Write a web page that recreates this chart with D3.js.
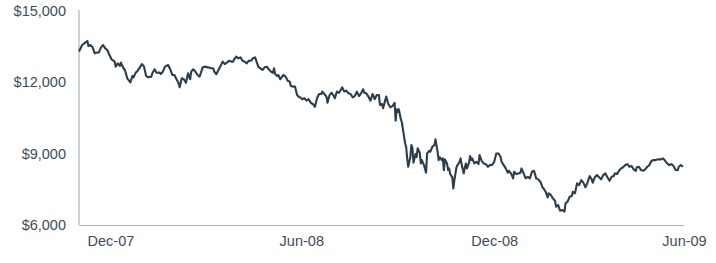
<!DOCTYPE html>
<html lang="en">
<head>
    <meta charset="UTF-8">
    <title>Index level, Dec-07 to Jun-09</title>
    <script src="https://d3js.org/d3.v7.min.js"></script>
    <style>
        body { margin: 0; background: #fff; }
        .axis path { stroke: #a8b2bf; stroke-width: 1.2px; }
        .axis text { font: 14.5px "Liberation Sans", Arial, sans-serif; fill: #3e4d5c; }
        .line { fill: none; stroke: #2c3e4b; stroke-width: 2.1px; stroke-linejoin: round; }
    </style>
</head>
<body>
    <svg width="716" height="263"></svg>

    <script>
        // valores (cierre aproximado)
        const dates = [
            "2007-12-01","2007-12-04","2007-12-07","2007-12-09","2007-12-10","2007-12-12","2007-12-14","2007-12-16","2007-12-18","2007-12-20","2007-12-22","2007-12-24","2007-12-26","2007-12-28","2007-12-30",
            "2008-01-01","2008-01-04","2008-01-05","2008-01-07","2008-01-09","2008-01-10","2008-01-12","2008-01-14","2008-01-16","2008-01-19","2008-01-21","2008-01-22","2008-01-24","2008-01-26","2008-01-28","2008-01-30",
            "2008-02-01","2008-02-03","2008-02-05","2008-02-08","2008-02-09","2008-02-11","2008-02-13","2008-02-16","2008-02-17","2008-02-19","2008-02-21","2008-02-24","2008-02-26","2008-02-28",
            "2008-03-01","2008-03-03","2008-03-05","2008-03-06","2008-03-08","2008-03-10","2008-03-12","2008-03-14","2008-03-16","2008-03-17","2008-03-19","2008-03-21","2008-03-23","2008-03-25","2008-03-28","2008-03-30",
            "2008-04-02","2008-04-05","2008-04-07","2008-04-08","2008-04-10","2008-04-12","2008-04-14","2008-04-16","2008-04-18","2008-04-20","2008-04-22","2008-04-24","2008-04-26","2008-04-27","2008-04-29",
            "2008-05-01","2008-05-03","2008-05-05","2008-05-07","2008-05-09","2008-05-11","2008-05-13","2008-05-15","2008-05-17","2008-05-18","2008-05-20","2008-05-22","2008-05-24","2008-05-26","2008-05-28","2008-05-30",
            "2008-06-01","2008-06-03","2008-06-04","2008-06-05","2008-06-07","2008-06-08","2008-06-10","2008-06-13","2008-06-15","2008-06-17","2008-06-19","2008-06-20","2008-06-22","2008-06-24","2008-06-26","2008-06-28","2008-06-29",
            "2008-07-01","2008-07-03","2008-07-05","2008-07-07","2008-07-09","2008-07-11","2008-07-13","2008-07-15","2008-07-17","2008-07-19","2008-07-20","2008-07-22","2008-07-24","2008-07-25","2008-07-27","2008-07-29","2008-07-31",
            "2008-08-01","2008-08-03","2008-08-05","2008-08-07","2008-08-08","2008-08-10","2008-08-12","2008-08-14","2008-08-16","2008-08-18","2008-08-20","2008-08-22","2008-08-24","2008-08-26","2008-08-28","2008-08-29","2008-08-31",
            "2008-09-02","2008-09-04","2008-09-06","2008-09-08","2008-09-10","2008-09-12","2008-09-13","2008-09-15","2008-09-16","2008-09-18","2008-09-19","2008-09-21","2008-09-23","2008-09-25","2008-09-27","2008-09-28","2008-09-29","2008-09-30",
            "2008-10-01","2008-10-03","2008-10-04","2008-10-05","2008-10-07","2008-10-08","2008-10-09","2008-10-10","2008-10-12","2008-10-13","2008-10-14","2008-10-15","2008-10-17","2008-10-18","2008-10-19","2008-10-21","2008-10-22","2008-10-23","2008-10-25","2008-10-27","2008-10-28","2008-10-30","2008-10-31",
            "2008-11-02","2008-11-04","2008-11-05","2008-11-07","2008-11-08","2008-11-09","2008-11-11","2008-11-12","2008-11-13","2008-11-14","2008-11-16","2008-11-17","2008-11-18","2008-11-19","2008-11-21","2008-11-22","2008-11-23","2008-11-25","2008-11-26","2008-11-28","2008-11-29","2008-11-30",
            "2008-12-02","2008-12-03","2008-12-04","2008-12-05","2008-12-07","2008-12-08","2008-12-09","2008-12-10","2008-12-12","2008-12-14","2008-12-16","2008-12-17","2008-12-19","2008-12-21","2008-12-23","2008-12-25","2008-12-27","2008-12-29","2008-12-31",
            "2009-01-02","2009-01-04","2009-01-06","2009-01-07","2009-01-09","2009-01-11","2009-01-13","2009-01-14","2009-01-16","2009-01-18","2009-01-19","2009-01-21","2009-01-23","2009-01-25","2009-01-26","2009-01-28","2009-01-30",
            "2009-02-01","2009-02-03","2009-02-05","2009-02-07","2009-02-09","2009-02-11","2009-02-13","2009-02-15","2009-02-16","2009-02-18","2009-02-20","2009-02-21","2009-02-23","2009-02-25","2009-02-27","2009-02-28",
            "2009-03-02","2009-03-03","2009-03-04","2009-03-06","2009-03-08","2009-03-09","2009-03-11","2009-03-13","2009-03-15","2009-03-16","2009-03-18","2009-03-20","2009-03-22","2009-03-24","2009-03-26","2009-03-28","2009-03-30",
            "2009-04-01","2009-04-03","2009-04-04","2009-04-06","2009-04-08","2009-04-10","2009-04-12","2009-04-14","2009-04-16","2009-04-18","2009-04-20","2009-04-22","2009-04-24","2009-04-25","2009-04-27","2009-04-29",
            "2009-05-01","2009-05-03","2009-05-05","2009-05-07","2009-05-09","2009-05-11","2009-05-13","2009-05-15","2009-05-16","2009-05-18","2009-05-20","2009-05-22","2009-05-24","2009-05-26","2009-05-28","2009-05-30",
            "2009-06-01","2009-06-03","2009-06-05","2009-06-06","2009-06-08","2009-06-10","2009-06-12","2009-06-14","2009-06-16","2009-06-18","2009-06-20","2009-06-22","2009-06-24","2009-06-25","2009-06-27","2009-06-29"
        ];

        const closes = [
            13300,13570,13670,13740,13530,13570,13470,13220,13250,13260,13470,13570,13430,13360,13150,
            12970,12870,12660,12800,12690,12830,12630,12490,12170,12000,12270,12210,12400,12490,12630,12770,
            12660,12270,12210,12240,12380,12550,12400,12410,12350,12450,12660,12730,12550,12310,
            12310,12130,11960,11790,12170,12130,11980,12380,12130,12450,12550,12450,12310,12240,12630,12660,
            12630,12590,12590,12450,12340,12520,12690,12870,12770,12830,12910,12870,12870,12970,13080,
            13010,13050,12910,12870,12800,12910,12910,13010,13050,12910,12660,12590,12520,12630,12660,12550,
            12450,12400,12590,12350,12270,12310,12130,12310,12240,12070,12030,11850,11820,11820,11470,11370,11370,
            11290,11330,11230,11290,11140,11090,10970,11330,11510,11510,11610,11510,11400,11140,11470,11560,11420,
            11330,11610,11560,11710,11790,11610,11650,11540,11510,11370,11420,11610,11420,11540,11710,11560,11540,
            11400,11230,11510,11290,11470,11470,11050,11090,10910,11230,11400,11090,10950,11000,11140,10390,10870,10760,
            10870,10440,10300,10000,9440,9290,8800,8450,8870,9360,9230,8620,8990,8850,9230,9040,8590,8730,8520,8200,9010,9120,9080,
            9290,9360,9600,9080,8730,8850,8730,8800,8310,8760,8590,8310,8380,8140,8010,7540,7890,8430,8520,8660,8800,8520,
            8170,8430,8590,8380,8620,8900,8730,8800,8590,8660,8560,8940,8700,8590,8560,8450,8520,8530,8660,
            9010,9010,8870,8660,8520,8380,8200,8280,8170,7960,8240,8140,8170,8200,8380,8170,7960,
            8030,7960,8240,8280,7960,7920,7820,7590,7540,7400,7160,7330,7260,7120,7020,6770,
            6840,6700,6600,6630,6560,6910,6980,7190,7220,7400,7330,7750,7680,7890,7780,7590,7780,
            8060,7920,7780,8010,8100,8010,7920,8100,8170,8010,7860,8030,8060,8170,8140,8280,
            8380,8430,8520,8560,8450,8480,8340,8280,8430,8450,8310,8280,8340,8450,8520,8700,
            8730,8730,8760,8760,8760,8800,8700,8590,8520,8560,8480,8310,8300,8450,8520,8450
        ];

        const yTicks = [6000, 9000, 12000, 15000];
        const xTickDates = ["2007-12-31", "2008-06-30", "2008-12-31", "2009-06-30"];
        const xTickLabels = ["Dec-07", "Jun-08", "Dec-08", "Jun-09"];

        const parse = d3.timeParse("%Y-%m-%d");
        const data = dates.map((d, i) => ({ date: parse(d), value: closes[i] }));

        const svg = d3.select("svg");

        const x = d3.scaleTime()
            .domain([parse("2007-12-01"), parse("2009-06-30")])
            .range([79, 684]);

        const y = d3.scaleLinear()
            .domain([6000, 15000])
            .range([225, 11]);

        // eje y
        svg.append("g")
            .attr("class", "axis")
            .attr("transform", "translate(79,0)")
            .call(d3.axisLeft(y).tickValues(yTicks).tickFormat(d3.format("$,")).tickSize(0).tickPadding(13))
            .call(g => g.select(".domain").attr("d", "M0,10V225"));

        // eje x
        svg.append("g")
            .attr("class", "axis")
            .attr("transform", "translate(0,225)")
            .call(d3.axisBottom(x)
                .tickValues(xTickDates.map(parse))
                .tickFormat((d, i) => xTickLabels[i])
                .tickSize(0)
                .tickPadding(11));

        svg.append("path")
            .datum(data)
            .attr("class", "line")
            .attr("d", d3.line().x(d => x(d.date)).y(d => y(d.value)));
    </script>
</body>
</html>
